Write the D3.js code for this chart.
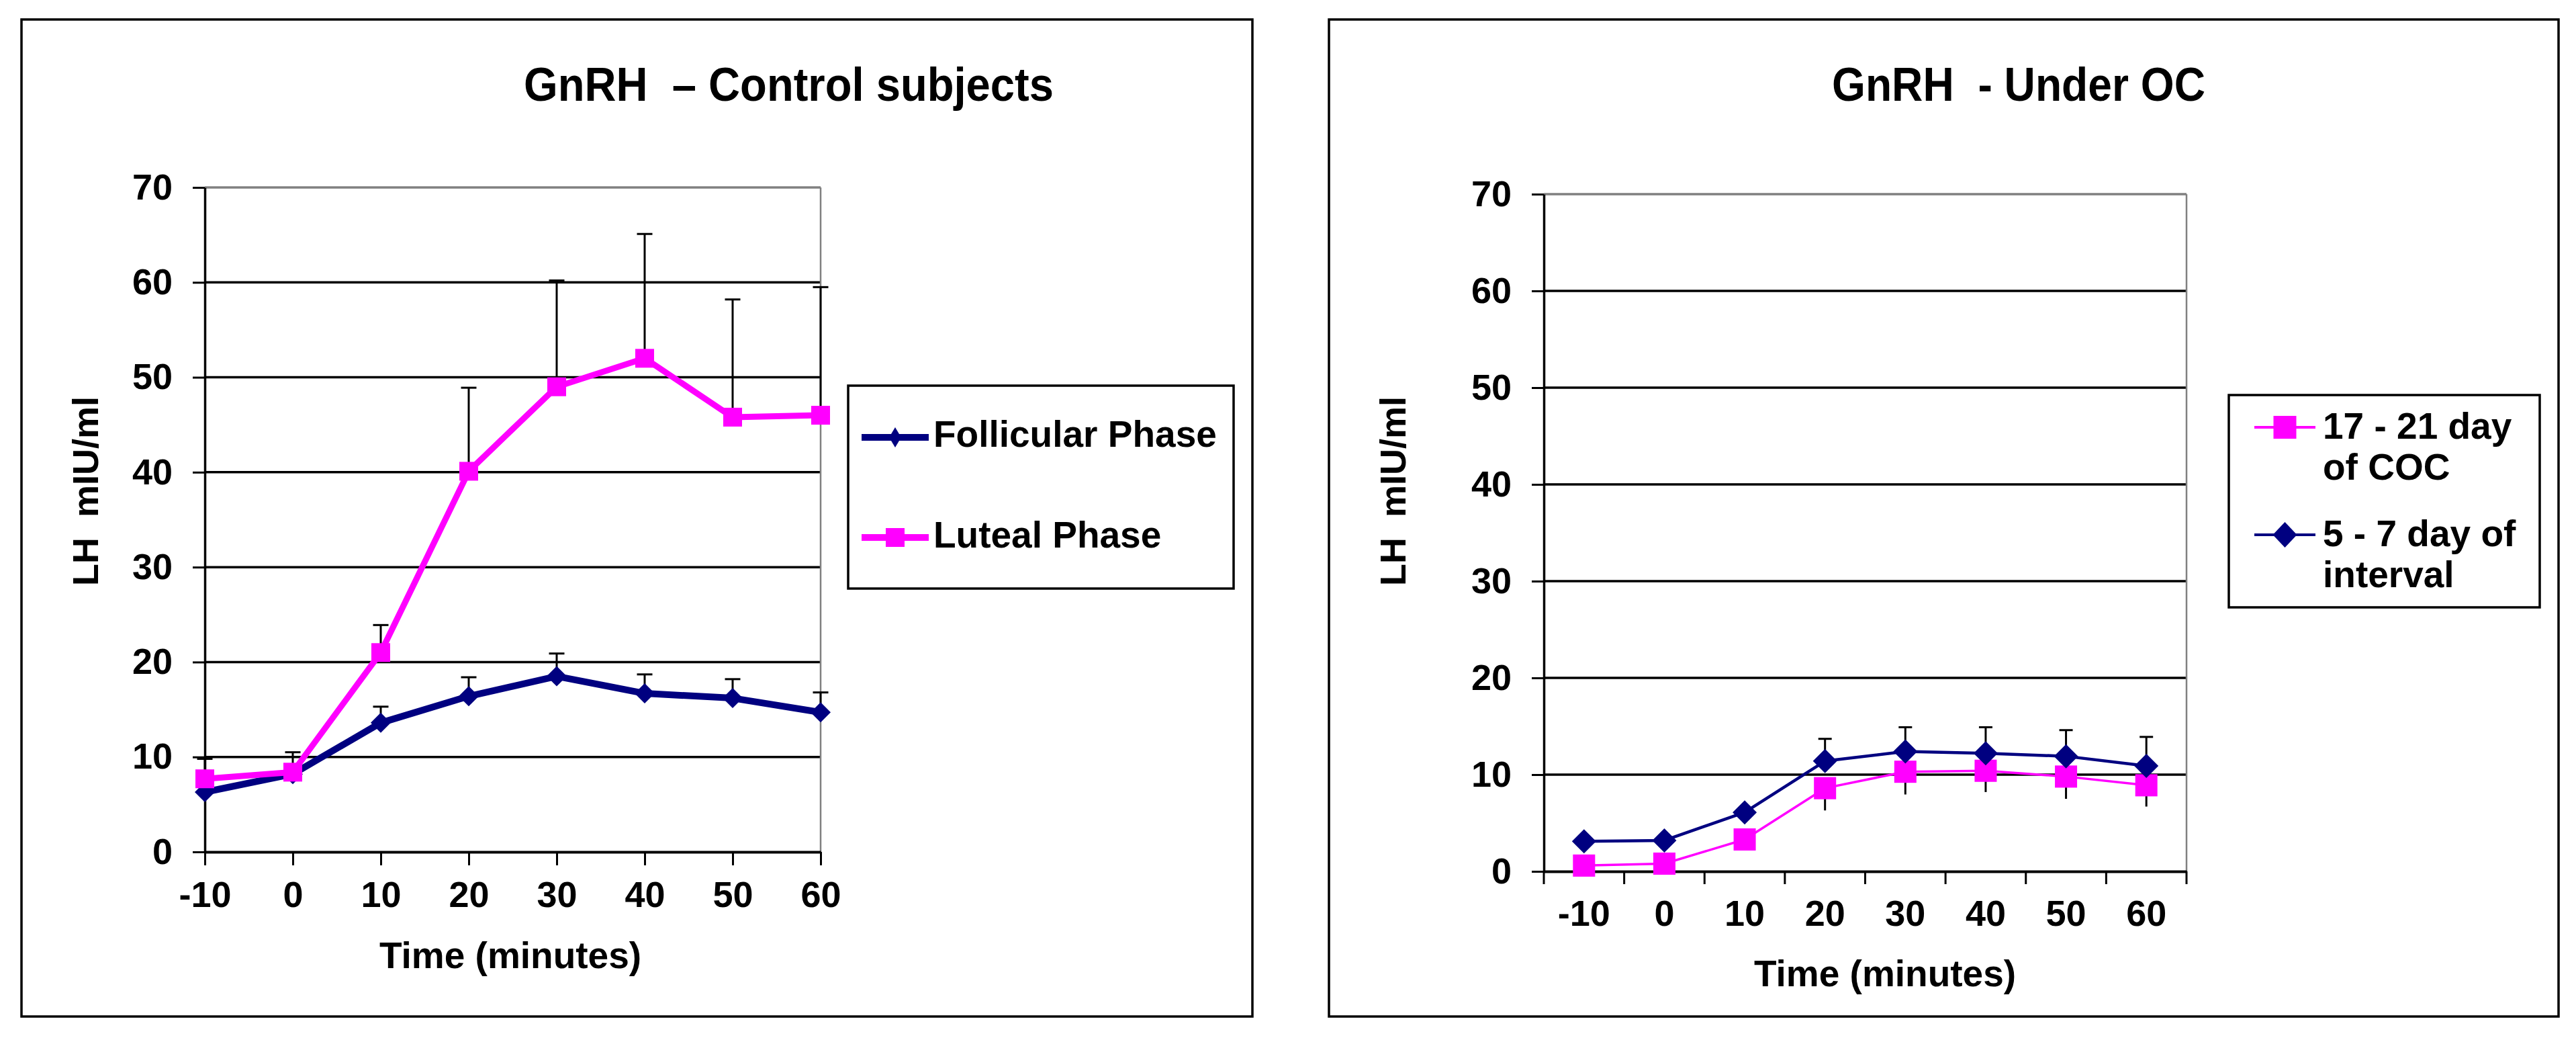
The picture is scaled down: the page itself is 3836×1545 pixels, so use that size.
<!DOCTYPE html>
<html>
<head>
<meta charset="utf-8">
<script src="https://cdn.jsdelivr.net/npm/d3@7"></script>
<style>
  body { margin: 0; background: #fff; }
  text { font-family: "Liberation Sans", Arial, sans-serif; font-weight: bold; fill: #000; white-space: pre; }
</style>
</head>
<body>
<script>
// time points (minutes)
const timeLabels = [-10, 0, 10, 20, 30, 40, 50, 60]
const yTicks = [0, 10, 20, 30, 40, 50, 60, 70]

// left panel - control subjects
const follicular = [6.3, 8.2, 13.6, 16.4, 18.5, 16.7, 16.2, 14.7]
const follicularSd = [0, 0, 1.7, 2.0, 2.4, 2.0, 2.0, 2.1]
const luteal = [7.7, 8.4, 21.0, 40.1, 49.0, 52.0, 45.8, 46.0]
const lutealSd = [2.1, 2.1, 2.9, 8.8, 11.2, 13.1, 12.4, 13.5]

// right panel - under OC
const coc = [0.6, 0.8, 3.3, 8.6, 10.3, 10.4, 9.8, 8.9]
const cocSd = [0, 0, 0, 2.3, 2.35, 2.2, 2.3, 2.2]
const interval = [3.1, 3.2, 6.1, 11.4, 12.4, 12.2, 11.9, 10.9]
const intervalSd = [0, 0, 0, 2.3, 2.5, 2.7, 2.7, 3.0]

const NAVY = '#000080'
const PINK = '#ff00ff'

const svg = d3.select('body').append('svg')
    .attr('width', 3836)
    .attr('height', 1545)

// outer frames
svg.append('rect').attr('x', 32).attr('y', 29).attr('width', 1833).attr('height', 1484)
    .attr('fill', 'none').attr('stroke', '#000').attr('stroke-width', 3.5)
svg.append('rect').attr('x', 1979).attr('y', 29).attr('width', 1831).attr('height', 1484)
    .attr('fill', 'none').attr('stroke', '#000').attr('stroke-width', 3.5)

const diamond = (rx, ry) => `M0,${-ry}L${rx},0L0,${ry}L${-rx},0Z`

function drawMarker(g, type, x, y, size, color) {
    if (type === 'square') {
        g.append('rect')
            .attr('x', x - size / 2).attr('y', y - size / 2)
            .attr('width', size).attr('height', size)
            .attr('fill', color)
    } else {
        g.append('path')
            .attr('d', diamond(size.rx, size.ry))
            .attr('transform', `translate(${x},${y})`)
            .attr('fill', color)
    }
}

function styleAxis(g, width) {
    g.select('.domain').attr('stroke', '#000').attr('stroke-width', width)
    g.selectAll('.tick line').attr('stroke', '#000').attr('stroke-width', 3)
    g.selectAll('.tick text').style('font-size', '54px')
}

function frame(x0, x1, y) {
    const g = svg.append('g')
    // grid lines
    g.selectAll('line.grid')
        .data(yTicks.filter(d => d > 0 && d < 70))
        .enter().append('line')
        .attr('x1', x0).attr('x2', x1)
        .attr('y1', d => y(d)).attr('y2', d => y(d))
        .attr('stroke', '#000').attr('stroke-width', 3.5)
    // plot area border top / right (grey)
    g.append('line').attr('x1', x0).attr('x2', x1).attr('y1', y(70)).attr('y2', y(70))
        .attr('stroke', '#808080').attr('stroke-width', 3.5)
    g.append('line').attr('x1', x1).attr('x2', x1).attr('y1', y(70)).attr('y2', y(0))
        .attr('stroke', '#808080').attr('stroke-width', 2.5)

    const yAxis = d3.axisLeft(y).tickValues(yTicks).tickSize(18).tickSizeOuter(0).tickPadding(30)
    svg.append('g').attr('transform', `translate(${x0},0)`).call(yAxis).call(g => styleAxis(g, 3.5))
}

function errorBars(g, xs, ys, sds, y, dir, cap) {
    xs.forEach((x, i) => {
        if (!sds[i]) return
        const v0 = ys[i]
        const v1 = dir > 0 ? ys[i] + sds[i] : ys[i] - sds[i]
        g.append('line').attr('x1', x).attr('x2', x)
            .attr('y1', y(v0)).attr('y2', y(v1))
            .attr('stroke', '#000').attr('stroke-width', 3)
        if (cap) {
            g.append('line').attr('x1', x - cap / 2).attr('x2', x + cap / 2)
                .attr('y1', y(v1)).attr('y2', y(v1))
                .attr('stroke', '#000').attr('stroke-width', 3)
        }
    })
}

function series(g, xs, vals, y, color, width, marker, size) {
    const line = d3.line().x((d, i) => xs[i]).y(d => y(d))
    g.append('path').datum(vals)
        .attr('d', line)
        .attr('fill', 'none')
        .attr('stroke', color)
        .attr('stroke-width', width)
        .attr('stroke-linejoin', 'round')
    vals.forEach((v, i) => drawMarker(g, marker, xs[i], y(v), size, color))
}

function legend(x, y, w, h, items) {
    const g = svg.append('g')
    g.append('rect').attr('x', x).attr('y', y).attr('width', w).attr('height', h)
        .attr('fill', '#fff').attr('stroke', '#000').attr('stroke-width', 3.5)
    items.forEach(it => {
        g.append('line').attr('x1', it.lx0).attr('x2', it.lx1)
            .attr('y1', it.ly).attr('y2', it.ly)
            .attr('stroke', it.color).attr('stroke-width', it.width)
        drawMarker(g, it.marker, (it.lx0 + it.lx1) / 2, it.ly, it.size, it.color)
        it.lines.forEach((t, k) => {
            g.append('text').attr('x', it.tx).attr('y', it.ty + k * 61)
                .style('font-size', '55px').text(t)
        })
    })
}

// ---------- left panel ----------
const xL = d3.scaleLinear().domain([-10, 60]).range([305, 1222])
const yL = d3.scaleLinear().domain([0, 70]).range([1268, 279])

frame(305, 1222, yL)
const xAxisL = d3.axisBottom(xL).tickValues(timeLabels).tickFormat(d => String(d))
    .tickSize(20).tickSizeOuter(0).tickPadding(24)
svg.append('g').attr('transform', `translate(0,${yL(0)})`).call(xAxisL).call(g => styleAxis(g, 4))

const gL = svg.append('g')
const xsL = timeLabels.map(d => xL(d))
errorBars(gL, xsL, follicular, follicularSd, yL, 1, 23)
errorBars(gL, xsL, luteal, lutealSd, yL, 1, 23)
series(gL, xsL, follicular, yL, NAVY, 10, 'diamond', { rx: 15, ry: 15 })
series(gL, xsL, luteal, yL, PINK, 9, 'square', 28)

svg.append('text').attr('x', 780).attr('y', 150)
    .attr('textLength', 789).attr('lengthAdjust', 'spacingAndGlyphs')
    .style('font-size', '70px').text('GnRH  \u2013 Control subjects')
svg.append('text').attr('text-anchor', 'middle')
    .attr('transform', 'translate(146,731) rotate(-90)')
    .style('font-size', '54px').text('LH  mIU/ml')
svg.append('text').attr('x', 760).attr('y', 1441).attr('text-anchor', 'middle')
    .style('font-size', '55px').text('Time (minutes)')

legend(1263, 574, 574, 302, [
    { lx0: 1283, lx1: 1383, ly: 651, color: NAVY, width: 10, marker: 'diamond', size: { rx: 9, ry: 15 },
      tx: 1390, ty: 665, lines: ['Follicular Phase'] },
    { lx0: 1283, lx1: 1383, ly: 800, color: PINK, width: 10, marker: 'square', size: 28,
      tx: 1390, ty: 815, lines: ['Luteal Phase'] }
])

// ---------- right panel ----------
const xR = d3.scaleBand().domain(timeLabels).range([2299, 3256])
const yR = d3.scaleLinear().domain([0, 70]).range([1297, 289])

frame(2299, 3256, yR)
const xAxisR = d3.axisBottom(xR).tickSize(0).tickSizeOuter(0).tickPadding(43)
svg.append('g').attr('transform', `translate(0,${yR(0)})`).call(xAxisR).call(g => styleAxis(g, 4))
// tick marks between categories
svg.append('g').selectAll('line')
    .data(timeLabels.map(d => xR(d)).concat([xR.range()[1]]))
    .enter().append('line')
    .attr('x1', d => d).attr('x2', d => d)
    .attr('y1', yR(0)).attr('y2', yR(0) + 19)
    .attr('stroke', '#000').attr('stroke-width', 3)

const gR = svg.append('g')
const xsR = timeLabels.map(d => xR(d) + xR.bandwidth() / 2)
errorBars(gR, xsR, coc, cocSd, yR, -1, 0)
errorBars(gR, xsR, interval, intervalSd, yR, 1, 20)
series(gR, xsR, coc, yR, PINK, 3.5, 'square', 33)
series(gR, xsR, interval, yR, NAVY, 4.5, 'diamond', { rx: 18, ry: 18 })

svg.append('text').attr('x', 2728).attr('y', 150)
    .attr('textLength', 556).attr('lengthAdjust', 'spacingAndGlyphs')
    .style('font-size', '70px').text('GnRH  - Under OC')
svg.append('text').attr('text-anchor', 'middle')
    .attr('transform', 'translate(2093,731) rotate(-90)')
    .style('font-size', '54px').text('LH  mIU/ml')
svg.append('text').attr('x', 2807).attr('y', 1468).attr('text-anchor', 'middle')
    .style('font-size', '55px').text('Time (minutes)')

legend(3319, 588, 463, 316, [
    { lx0: 3357, lx1: 3448, ly: 636, color: PINK, width: 4, marker: 'square', size: 34,
      tx: 3459, ty: 653, lines: ['17 - 21 day', 'of COC'] },
    { lx0: 3357, lx1: 3448, ly: 796, color: NAVY, width: 4, marker: 'diamond', size: { rx: 18, ry: 19 },
      tx: 3459, ty: 813, lines: ['5 - 7 day of', 'interval'] }
])
</script>
</body>
</html>
